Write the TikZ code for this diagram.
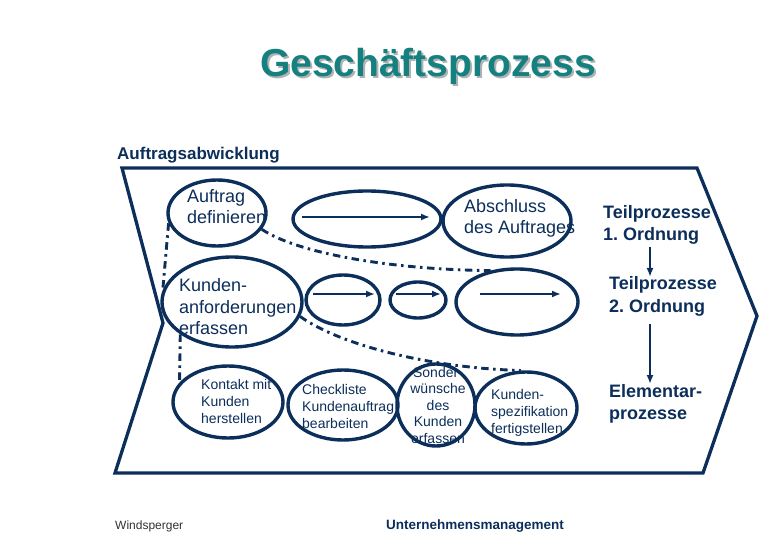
\documentclass[tikz,border=0pt]{standalone}
\usepackage{fontspec}
\setmainfont{Liberation Sans}
\usetikzlibrary{shapes.geometric,arrows.meta}
\definecolor{navy}{RGB}{12,46,90}
\definecolor{titleteal}{RGB}{20,128,128}
\definecolor{shadowgrey}{RGB}{178,178,178}
\definecolor{footgrey}{RGB}{50,50,50}
\frenchspacing
\begin{document}
\begin{tikzpicture}[x=1bp,y=-1bp,
  ell/.style={draw=navy, line width=3.4bp, ellipse, inner sep=0pt},
  lbl/.style={text=navy, inner sep=0pt, anchor=base west, align=left,
    font=\fontsize{18bp}{21bp}\selectfont},
  lblsmall/.style={text=navy, inner sep=0pt, anchor=base west, align=left,
    font=\fontsize{14bp}{16.8bp}\selectfont},
  lblbold/.style={text=navy, inner sep=0pt, anchor=base west, align=left,
    font=\fontsize{18bp}{22bp}\selectfont\bfseries},
  dd/.style={draw=navy, line width=2.9bp, dash pattern=on 7.5bp off 4.5bp on 2.5bp off 4.5bp},
  arr/.style={draw=navy, line width=2.7bp, -{Latex[length=9bp,width=7bp]}},
  frame/.style={draw=navy, line width=3.3bp, line join=miter}
]
\useasboundingbox (0,0) rectangle (780,540);

% title (base anchor of multi-line nodes = last line)
\node[inner sep=0pt, anchor=base, text=shadowgrey, font=\fontsize{39bp}{44bp}\selectfont\bfseries] (titleshadow) at (430,79) {Geschäftsprozess};
\node[inner sep=0pt, anchor=base, text=titleteal, font=\fontsize{39bp}{44bp}\selectfont\bfseries] (title) at (428,77) {Geschäftsprozess};

% chevron frame
\coordinate (tl) at (122,168);
\coordinate (tr) at (697,168);
\coordinate (rt) at (757,316);
\coordinate (br) at (703,473);
\coordinate (bl) at (115,473);
\coordinate (nl) at (163,323);
\draw[frame] (tl) -- (tr) -- (rt) -- (br) -- (bl) -- (nl) -- cycle;

\node[lblbold, font=\fontsize{17bp}{20bp}\selectfont\bfseries] (aab) at (117,160) {Auftragsabwicklung};

% row 1
\node[ell, minimum width=98bp, minimum height=66bp] (e1) at (217,213) {};
\node[ell, minimum width=148bp, minimum height=56bp] (e2) at (367,219) {};
\node[ell, minimum width=128bp, minimum height=72bp] (e3) at (507,221) {};
\coordinate (a2s) at (302,217);
\coordinate (a2e) at (430,217);
\draw[arr] (a2s) -- (a2e);
\node[lbl] (t1) at (187,224) {Auftrag\\definieren};
\node[lbl] (t3) at (464,234) {Abschluss\\des Auftrages};

% row 2
\node[ell, minimum width=140bp, minimum height=90bp] (e4) at (232,302) {};
\node[ell, minimum width=74bp, minimum height=50bp] (e5) at (343,300) {};
\node[ell, minimum width=56bp, minimum height=36bp] (e6) at (418,300) {};
\node[ell, minimum width=122bp, minimum height=66bp] (e7) at (517,302) {};
\coordinate (a5s) at (313,294);
\coordinate (a5e) at (375,294);
\coordinate (a6s) at (396,294);
\coordinate (a6e) at (441,294);
\coordinate (a7s) at (480,294);
\coordinate (a7e) at (561,294);
\draw[arr] (a5s) -- (a5e);
\draw[arr] (a6s) -- (a6e);
\draw[arr] (a7s) -- (a7e);
\node[lbl] (t4) at (179,334) {Kunden-\\anforderungen\\erfassen};

% row 3
\node[ell, minimum width=110bp, minimum height=72bp] (e8) at (228,402) {};
\node[ell, minimum width=110bp, minimum height=70bp] (e9) at (343,405) {};
\node[ell, minimum width=78bp, minimum height=82bp] (e10) at (436,405) {};
\node[ell, minimum width=102bp, minimum height=72bp] (e11) at (526,408) {};
\node[lblsmall] (t8) at (201,423) {Kontakt mit\\Kunden\\herstellen};
\node[lblsmall] (t9) at (302,428) {Checkliste\\Kundenauftrag\\bearbeiten};
\node[lblsmall, anchor=base, align=center, font=\fontsize{14bp}{16.5bp}\selectfont] (t10) at (438,443) {Sonder-\\wünsche\\des\\Kunden\\erfassen};
\node[lblsmall] (t11) at (491,433) {Kunden-\\spezifikation\\fertigstellen};

% dash-dot connectors
\draw[dd] (e1.-20) .. controls (300,255) and (400,270) .. (e7.130);
\draw[dd] (e1.192) -- (e4.170);
\draw[dd] (e4.212) -- (e8.158);
\draw[dd] (e4.-12) .. controls (340,345) and (430,368) .. (e11.98);

% hierarchy on the right
\node[lblbold] (h1) at (603,241) {Teilprozesse\\1. Ordnung};
\node[lblbold] (h2) at (609,312) {Teilprozesse\\2. Ordnung};
\node[lblbold] (h3) at (609,419) {Elementar-\\prozesse};
\coordinate (h1b) at (650,247);
\coordinate (h2t) at (650,277);
\coordinate (h2b) at (650,324);
\coordinate (h3t) at (650,384);
\draw[arr] (h1b) -- (h2t);
\draw[arr] (h2b) -- (h3t);

% footer
\node[inner sep=0pt, anchor=base west, text=footgrey, font=\fontsize{12bp}{14bp}\selectfont] (foot1) at (115,529) {Windsperger};
\node[inner sep=0pt, anchor=base west, text=navy, font=\fontsize{13.5bp}{16bp}\selectfont\bfseries] (foot2) at (386,529) {Unternehmensmanagement};
\end{tikzpicture}
\end{document}
